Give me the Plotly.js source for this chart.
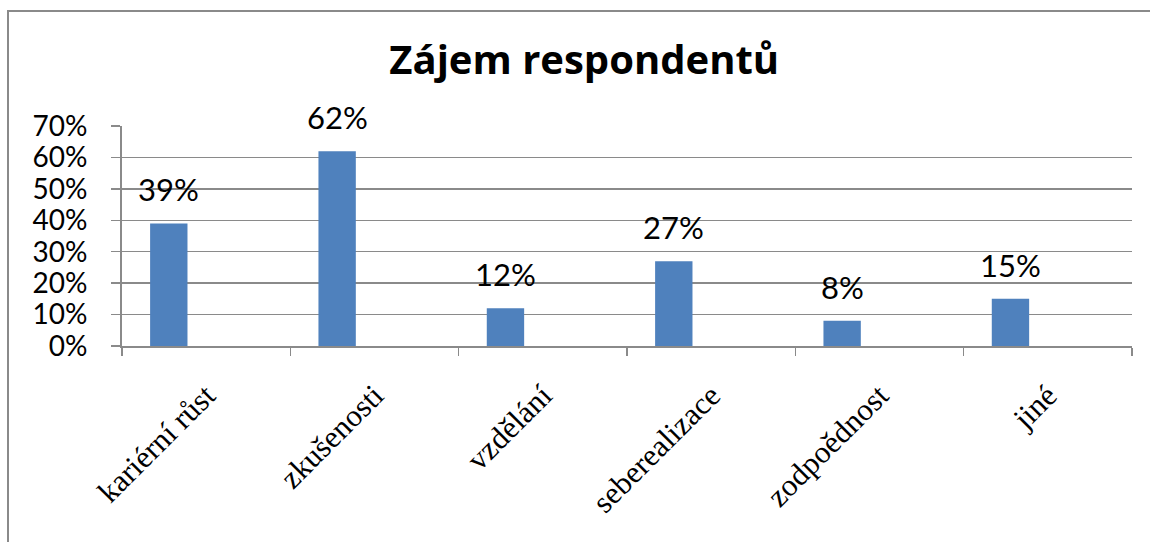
<!DOCTYPE html>
<html>
<head>
<meta charset="utf-8">
<script src="https://cdn.plot.ly/plotly-3.0.1.min.js"></script>
<style>
  html, body { margin: 0; padding: 0; background: #fff; }
  #wrap { position: relative; width: 1150px; height: 542px; }
  #chart { position: absolute; left: 0; top: 0; width: 1150px; height: 542px; }
  #frame { position: absolute; left: 7px; top: 10px; width: 1150px; height: 540px;
           border-left: 2px solid #8a8a8a; border-top: 2px solid #8a8a8a; pointer-events: none; }
</style>
</head>
<body>
<div id="wrap">
  <div id="chart"></div>
  <div id="frame"></div>
</div>
<script>
const categories = ["kariérní růst", "zkušenosti", "vzdělání", "seberealizace", "zodpoědnost", "jiné"];
const values = [0.39, 0.62, 0.12, 0.27, 0.08, 0.15];
const valueLabels = ["39%", "62%", "12%", "27%", "8%", "15%"];
const yTickVals = [0, 0.1, 0.2, 0.3, 0.4, 0.5, 0.6, 0.7];
const yTickText = ["0%", "10%", "20%", "30%", "40%", "50%", "60%", "70%"];
const chartTitle = "Zájem respondentů";

const barWidth = 0.222;
const barOffset = -0.333;

const trace = {
  type: "bar",
  x: categories,
  y: values,
  width: barWidth,
  offset: barOffset,
  marker: { color: "#4f81bd" },
  hoverinfo: "skip"
};

const annotations = values.map((v, i) => ({
  x: i + barOffset + barWidth / 2,
  y: v,
  xref: "x",
  yref: "y",
  text: valueLabels[i],
  showarrow: false,
  xanchor: "center",
  yanchor: "bottom",
  yshift: 13,
  font: { family: "Lato, 'DejaVu Sans', sans-serif", size: 31, color: "#000" }
}));

const layout = {
  width: 1150,
  height: 542,
  margin: { l: 122, r: 18, t: 126, b: 196 },
  paper_bgcolor: "#fff",
  plot_bgcolor: "#fff",
  showlegend: false,
  title: {
    text: chartTitle,
    x: 0.508,
    xanchor: "center",
    y: 0.89,
    yanchor: "middle",
    font: { family: "'Open Sans', Lato, sans-serif", size: 40, color: "#000", weight: 700 }
  },
  xaxis: {
    type: "category",
    range: [-0.5, categories.length - 0.5],
    tickson: "boundaries",
    ticks: "outside",
    ticklen: 8,
    tickwidth: 1.5,
    tickcolor: "#8a8a8a",
    showline: true,
    linecolor: "#8a8a8a",
    linewidth: 2,
    showgrid: false,
    tickangle: -45,
    ticklabelstandoff: 17,
    tickfont: { family: "'Liberation Serif', 'Times New Roman', serif", size: 31, color: "#000" },
    fixedrange: true
  },
  yaxis: {
    range: [0, 0.7],
    tickvals: yTickVals,
    ticktext: yTickText,
    ticks: "outside",
    ticklen: 9,
    tickwidth: 1.5,
    tickcolor: "#8a8a8a",
    showline: true,
    linecolor: "#8a8a8a",
    linewidth: 2,
    showgrid: true,
    gridcolor: "#8a8a8a",
    gridwidth: 1.5,
    zeroline: false,
    ticklabelstandoff: 18,
    tickfont: { family: "Lato, 'DejaVu Sans', sans-serif", size: 28, color: "#000" },
    fixedrange: true
  },
  annotations: annotations
};

Plotly.newPlot("chart", [trace], layout, { displayModeBar: false, staticPlot: true });
</script>
</body>
</html>
